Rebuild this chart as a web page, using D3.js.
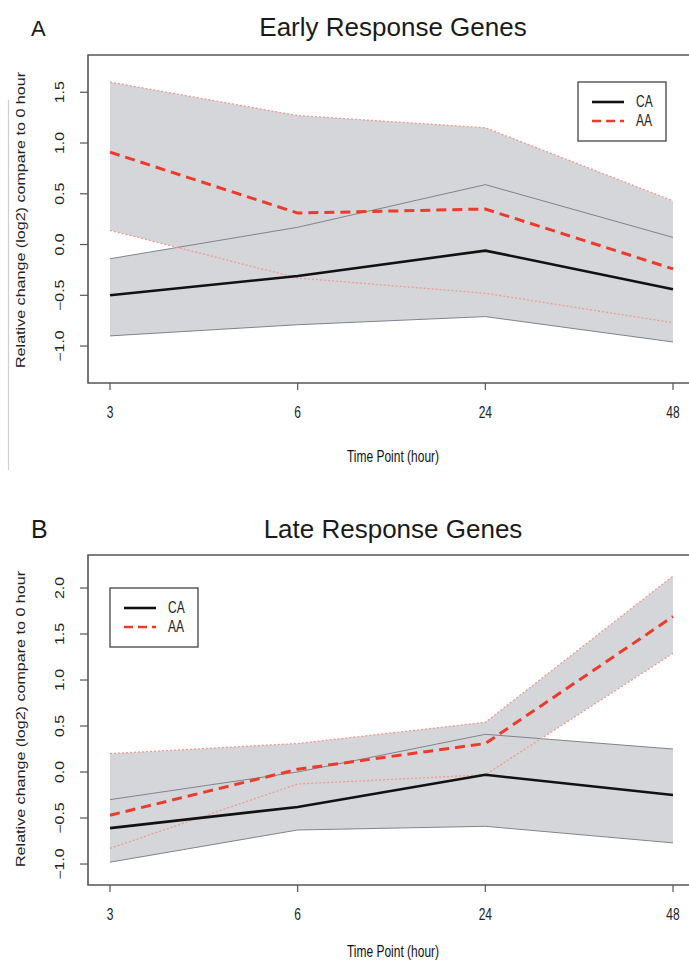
<!DOCTYPE html>
<html>
<head>
<meta charset="utf-8">
<script src="https://cdn.jsdelivr.net/npm/d3@7"></script>
<style>
  body { margin: 0; background: #fff; }
  svg { display: block; font-family: "Liberation Sans", Arial, sans-serif; }
</style>
</head>
<body>
<div id="chart"></div>
<script>
// time points shared by both panels
const timePoints = ["3", "6", "24", "48"];

// panel A, early response genes
const earlyCaMean = [-0.50, -0.31, -0.06, -0.44];
const earlyCaUpper = [-0.14, 0.17, 0.59, 0.07];
const earlyCaLower = [-0.90, -0.79, -0.71, -0.96];
const earlyAaMean = [0.91, 0.31, 0.35, -0.24];
const earlyAaUpper = [1.60, 1.27, 1.15, 0.43];
const earlyAaLower = [0.14, -0.33, -0.48, -0.77];
const earlyTicks = [-1.0, -0.5, 0.0, 0.5, 1.0, 1.5];

// panel B, late response genes
const lateCaMean = [-0.61, -0.38, -0.03, -0.25];
const lateCaUpper = [-0.30, 0.00, 0.41, 0.25];
const lateCaLower = [-0.98, -0.63, -0.59, -0.77];
const lateAaMean = [-0.47, 0.03, 0.31, 1.69];
const lateAaUpper = [0.20, 0.31, 0.54, 2.13];
const lateAaLower = [-0.83, -0.13, -0.03, 1.29];
const lateTicks = [-1.0, -0.5, 0.0, 0.5, 1.0, 1.5, 2.0];

const legendLabels = ["CA", "AA"];

const W = 689, H = 962;
const svg = d3.select("#chart").append("svg").attr("width", W).attr("height", H);

const bandFill = "#d4d6d9";
const red = "#ec3a2c";
const pink = "#f29a92";
const stretch = 1.33; // the source image is a bit taller than it is wide

// faint scan edge on the left
svg.append("line")
  .attr("x1", 8.5).attr("x2", 8.5).attr("y1", 100).attr("y2", 470)
  .attr("stroke", "#d0d0d0").attr("stroke-width", 1.2);

function drawPanel(p) {
  const g = svg.append("g");
  const x = d3.scalePoint().domain(timePoints).range([110, 673]);
  const y = d3.scaleLinear().domain(p.yDomain).range([p.bottom, p.top]);

  const rows = (vals) => timePoints.map((t, i) => ({ t, v: vals[i] }));
  const line = d3.line().x((d) => x(d.t)).y((d) => y(d.v));
  const area = d3.area()
    .x((d) => x(d.t))
    .y0((d) => y(d.lo))
    .y1((d) => y(d.hi));
  const band = (lo, hi) => timePoints.map((t, i) => ({ t, lo: lo[i], hi: hi[i] }));

  // bands
  g.append("path").datum(band(p.caLower, p.caUpper)).attr("d", area).attr("fill", bandFill);
  g.append("path").datum(band(p.aaLower, p.aaUpper)).attr("d", area).attr("fill", bandFill);

  // bound lines
  [p.caUpper, p.caLower].forEach((vals) => {
    g.append("path").datum(rows(vals)).attr("d", line)
      .attr("fill", "none").attr("stroke", "#80838a").attr("stroke-width", 1);
  });
  [p.aaUpper, p.aaLower].forEach((vals) => {
    g.append("path").datum(rows(vals)).attr("d", line)
      .attr("fill", "none").attr("stroke", pink).attr("stroke-width", 1.3)
      .attr("stroke-dasharray", "2,2");
  });

  // means
  g.append("path").datum(rows(p.caMean)).attr("d", line)
    .attr("fill", "none").attr("stroke", "#111").attr("stroke-width", 2.6);
  g.append("path").datum(rows(p.aaMean)).attr("d", line)
    .attr("fill", "none").attr("stroke", red).attr("stroke-width", 3)
    .attr("stroke-dasharray", "10,6");

  // box (right side is cut off in the source)
  g.append("path")
    .attr("d", `M700,${p.top}H88V${p.bottom}H700`)
    .attr("fill", "none").attr("stroke", "#555").attr("stroke-width", 1.6);

  // y axis ticks
  p.yTicks.forEach((v) => {
    g.append("line").attr("x1", 80).attr("x2", 88).attr("y1", y(v)).attr("y2", y(v))
      .attr("stroke", "#555").attr("stroke-width", 1.2);
    g.append("text")
      .attr("transform", `translate(64,${y(v)}) scale(1,${stretch}) rotate(-90)`)
      .attr("text-anchor", "middle").attr("font-size", 12).attr("fill", "#222")
      .text(d3.format(".1f")(v));
  });

  // x axis ticks
  timePoints.forEach((t) => {
    g.append("line").attr("x1", x(t)).attr("x2", x(t)).attr("y1", p.bottom).attr("y2", p.bottom + 7)
      .attr("stroke", "#555").attr("stroke-width", 1.2);
    g.append("text")
      .attr("transform", `translate(${x(t)},${p.bottom + 35}) scale(1,${stretch})`)
      .attr("text-anchor", "middle").attr("font-size", 12).attr("fill", "#222")
      .text(t);
  });

  g.append("text")
    .attr("transform", `translate(393,${p.xTitleY}) scale(1,${stretch})`)
    .attr("text-anchor", "middle").attr("font-size", 12).attr("fill", "#111")
    .text("Time Point (hour)");

  g.append("text")
    .attr("transform", `translate(25,${p.yTitleMid}) rotate(-90)`)
    .attr("text-anchor", "middle").attr("font-size", 12.5).attr("fill", "#222")
    .attr("textLength", 296).attr("lengthAdjust", "spacingAndGlyphs")
    .text("Relative change (log2) compare to 0 hour");

  // titles
  g.append("text").attr("x", 393).attr("y", p.titleY)
    .attr("text-anchor", "middle").attr("font-size", 26).attr("fill", "#1a1a1a")
    .text(p.title);
  g.append("text").attr("x", 31).attr("y", p.titleY)
    .attr("font-size", p.letterSize).attr("fill", "#1a1a1a")
    .text(p.letter);

  // legend
  const lg = g.append("g").attr("transform", `translate(${p.legend[0]},${p.legend[1]})`);
  lg.append("rect").attr("width", 88).attr("height", 59)
    .attr("fill", "#fff").attr("stroke", "#444").attr("stroke-width", 1.3);
  legendLabels.forEach((lab, i) => {
    const ly = 20 + i * 19;
    lg.append("line").attr("x1", 14).attr("x2", 46).attr("y1", ly).attr("y2", ly)
      .attr("stroke", i === 0 ? "#111" : red).attr("stroke-width", 2.6)
      .attr("stroke-dasharray", i === 0 ? null : "9,5");
    lg.append("text")
      .attr("transform", `translate(58,${ly + 5}) scale(1,${stretch})`)
      .attr("font-size", 12).attr("fill", "#222").text(lab);
  });
}

drawPanel({
  title: "Early Response Genes", letter: "A", letterSize: 22, titleY: 36,
  top: 55, bottom: 383, yDomain: [-1.364, 1.867], yTicks: earlyTicks, yTitleMid: 220,
  xTitleY: 462,
  caMean: earlyCaMean, caUpper: earlyCaUpper, caLower: earlyCaLower,
  aaMean: earlyAaMean, aaUpper: earlyAaUpper, aaLower: earlyAaLower,
  legend: [578, 82],
});

drawPanel({
  title: "Late Response Genes", letter: "B", letterSize: 25, titleY: 538,
  top: 555, bottom: 885, yDomain: [-1.228, 2.359], yTicks: lateTicks, yTitleMid: 719,
  xTitleY: 957,
  caMean: lateCaMean, caUpper: lateCaUpper, caLower: lateCaLower,
  aaMean: lateAaMean, aaUpper: lateAaUpper, aaLower: lateAaLower,
  legend: [110, 588],
});
</script>
</body>
</html>
